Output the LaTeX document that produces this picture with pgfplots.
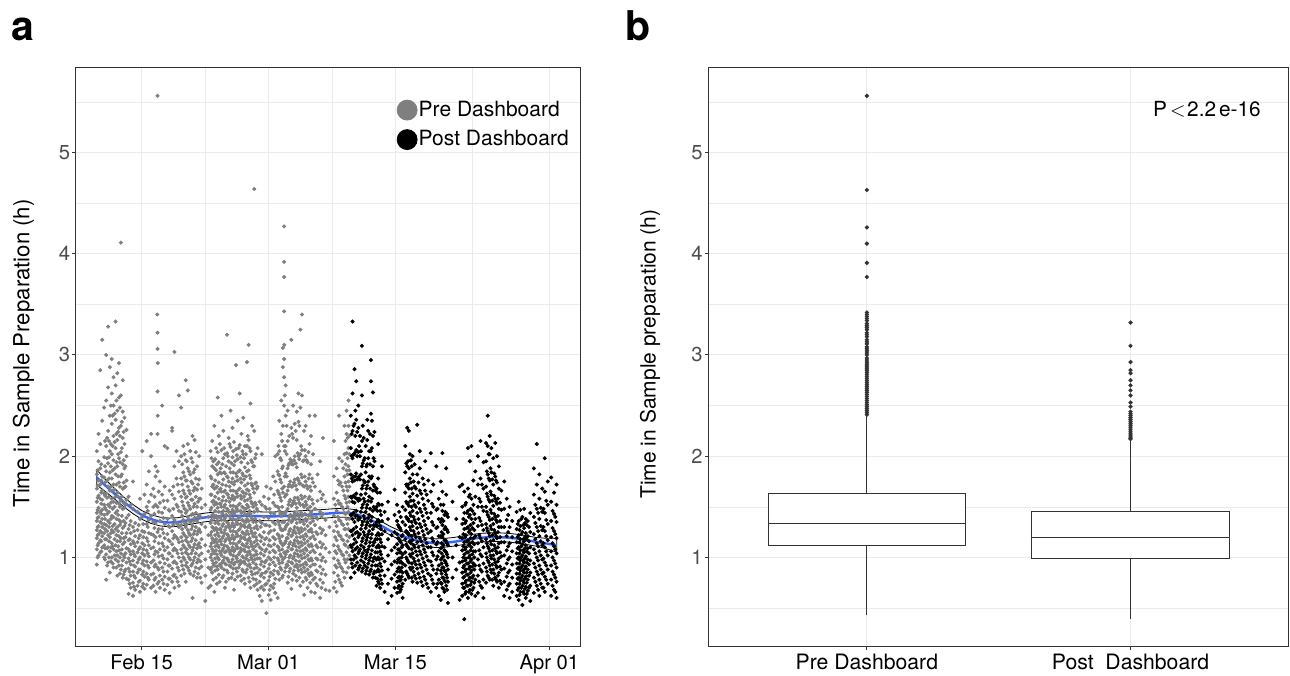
\documentclass[border=0pt]{standalone}
\usepackage{fontspec}
\setmainfont{TeX Gyre Heros}
\usepackage{pgfplots}
\usepackage{pgfplotstable}
\pgfplotsset{compat=1.18}
\usepgfplotslibrary{statistics}

\definecolor{ptgray}{HTML}{7F7F7F}
\definecolor{gridc}{HTML}{EBEBEB}
\definecolor{frame}{HTML}{333333}
\definecolor{ticktxt}{HTML}{4D4D4D}
\definecolor{fitblue}{HTML}{3366FF}

% pre dashboard points: x = days after Feb 15, one row per time slot, up to 10 values
\pgfplotstableread{
x a b c d e f g h i j
-4.95 0.93 1.08 1.19 1.27 1.36 1.44 1.55 1.68 1.82 2.05
-4.76 1.02 1.14 1.23 1.31 1.40 1.49 1.61 1.76 1.95 2.22
-4.57 1.05 1.17 1.26 1.35 1.45 1.58 1.72 1.88 2.12 2.85
-4.36 1.10 1.21 1.30 1.38 1.47 1.57 1.66 1.80 2.35 3.15
-4.14 1.00 1.12 1.24 1.33 1.42 1.52 1.63 1.79 1.99 2.48
-3.92 0.78 1.03 1.18 1.32 1.47 1.63 1.85 2.10 2.55 3.00
-3.71 0.95 1.10 1.22 1.36 1.52 1.70 1.93 2.25 2.68 3.28
-3.52 0.85 1.06 1.20 1.34 1.50 1.66 1.84 2.05 2.40 2.88
-3.30 1.00 1.14 1.27 1.41 1.58 1.78 2.02 2.32 2.62 2.96
-3.11 0.90 1.08 1.25 1.40 1.55 1.72 1.96 2.20 2.50 2.78
-2.88 0.98 1.12 1.28 1.44 1.60 1.82 2.08 2.36 2.70 3.33
-2.69 0.82 1.02 1.16 1.30 1.46 1.64 1.90 2.16 2.45 2.82
-2.51 0.92 1.07 1.21 1.37 1.53 1.74 1.98 2.28 2.58 2.92
-2.30 0.88 1.04 1.19 1.35 1.56 1.80 2.04 2.30 2.60 4.11
-2.09 0.80 0.97 1.13 1.29 1.48 1.68 1.92 2.18 2.44 2.75
-1.90 0.86 1.00 1.15 1.31 1.49 1.69 1.88 2.12 2.38 nan
-1.68 0.79 0.95 1.09 1.24 1.39 1.57 1.76 2.00 2.26 nan
-1.45 0.64 0.78 0.89 0.99 1.08 1.17 1.28 1.42 1.60 nan
-1.21 0.70 0.82 0.93 1.03 1.13 1.24 1.36 1.52 nan nan
-0.96 0.62 0.75 0.86 0.97 1.06 1.16 1.30 1.48 1.75 nan
-0.72 0.68 0.80 0.91 1.01 1.11 1.21 1.34 nan nan nan
-0.46 0.72 0.85 0.95 1.05 1.15 1.27 1.45 nan nan nan
-0.19 0.66 0.77 0.88 1.00 1.10 1.22 1.38 1.58 nan nan
0.06 0.71 0.83 0.94 1.04 1.14 1.26 1.40 2.05 nan nan
0.31 0.69 0.81 0.92 1.02 1.12 1.25 1.43 1.62 nan nan
0.55 0.73 0.84 0.96 1.07 1.19 1.33 1.50 1.72 2.15 nan
0.79 0.78 0.90 1.01 1.12 1.24 1.37 1.55 1.85 nan nan
1.04 0.70 0.83 0.95 1.09 1.23 1.41 1.62 2.00 2.22 nan
1.29 0.72 0.84 0.97 1.10 1.22 1.35 1.50 1.68 nan nan
1.53 0.66 0.80 0.93 1.06 1.20 1.34 1.52 1.80 1.90 nan
1.75 0.74 0.90 1.05 1.25 1.50 1.85 2.22 2.64 3.06 3.22
2.01 0.70 0.82 0.95 1.08 1.21 1.36 1.54 1.75 nan nan
2.26 0.78 0.90 1.02 1.14 1.28 1.44 1.62 2.50 nan nan
2.54 0.68 0.81 0.94 1.07 1.19 1.33 1.49 1.70 2.10 nan
2.84 0.73 0.86 0.98 1.10 1.23 1.38 1.56 2.08 nan nan
3.09 0.65 0.79 0.92 1.04 1.16 1.30 1.46 1.66 nan nan
3.36 0.76 0.89 1.01 1.13 1.26 1.41 1.62 2.25 2.28 nan
3.61 0.70 0.83 0.96 1.09 1.22 1.37 1.58 1.90 3.03 nan
3.84 0.80 0.94 1.07 1.20 1.34 1.52 1.78 2.05 nan nan
4.11 0.72 0.87 1.00 1.15 1.30 1.46 1.65 1.95 2.60 nan
4.36 0.82 0.96 1.08 1.20 1.32 1.45 1.60 1.78 2.00 2.48
4.59 0.88 1.00 1.12 1.24 1.37 1.51 1.66 1.84 2.10 nan
4.86 0.76 0.92 1.05 1.17 1.30 1.44 1.59 1.76 1.96 2.75
5.09 0.90 1.03 1.15 1.27 1.40 1.54 1.70 1.88 2.12 2.65
5.36 0.84 0.98 1.10 1.22 1.35 1.48 1.63 1.82 2.05 nan
5.61 0.60 0.94 1.07 1.19 1.31 1.43 1.57 1.73 1.94 2.20
5.84 0.86 1.00 1.13 1.26 1.39 1.53 1.69 1.87 2.16 nan
6.11 0.80 0.95 1.09 1.23 1.36 1.50 1.67 1.90 nan nan
6.34 0.89 1.02 1.14 1.28 1.42 1.58 1.77 2.00 nan nan
6.61 0.75 0.91 1.04 1.18 1.33 1.49 1.68 nan nan nan
7.02 0.57 0.82 0.98 1.12 1.30 1.52 nan nan nan nan
7.36 0.70 0.90 1.06 1.22 1.40 nan nan nan nan nan
7.61 0.72 0.88 1.00 1.11 1.22 1.34 1.47 1.62 1.80 2.05
7.79 0.85 0.97 1.08 1.19 1.30 1.42 1.55 1.70 1.90 2.15
8.02 0.66 0.92 1.04 1.15 1.27 1.39 1.52 1.68 1.88 2.30
8.21 0.80 0.95 1.07 1.18 1.29 1.41 1.54 1.69 1.86 2.08
8.39 0.88 1.00 1.12 1.24 1.36 1.49 1.64 1.82 2.04 2.58
8.62 0.76 0.93 1.06 1.17 1.28 1.40 1.53 1.67 1.84 2.12
8.80 0.90 1.02 1.13 1.25 1.37 1.50 1.65 1.83 2.06 2.40
9.01 0.82 0.97 1.09 1.21 1.33 1.46 1.60 1.77 1.98 2.25
9.19 0.70 0.94 1.05 1.16 1.27 1.39 1.52 1.66 1.83 2.02
9.42 0.87 0.99 1.11 1.23 1.35 1.48 1.63 1.80 2.03 3.20
9.60 0.79 0.96 1.08 1.20 1.32 1.45 1.59 1.75 1.95 2.18
9.81 0.91 1.03 1.14 1.26 1.38 1.51 1.66 1.84 2.09 2.45
10.02 0.84 0.98 1.10 1.22 1.34 1.47 1.61 1.78 1.99 2.28
10.19 0.68 0.93 1.06 1.18 1.30 1.43 1.57 1.72 1.91 2.14
10.41 0.89 1.01 1.13 1.25 1.37 1.50 1.65 1.83 2.07 2.90
10.59 0.81 0.96 1.09 1.21 1.33 1.46 1.60 1.76 1.97 2.35
10.82 0.93 1.05 1.16 1.28 1.40 1.53 1.68 1.86 2.11 2.62
11.00 0.77 0.95 1.07 1.19 1.31 1.44 1.58 1.74 1.94 2.22
11.21 0.86 1.00 1.12 1.24 1.36 1.49 1.64 1.81 2.02 2.38
11.39 0.74 0.94 1.06 1.18 1.30 1.42 1.56 1.71 1.89 2.10
11.62 0.88 1.02 1.14 1.26 1.38 1.52 1.67 1.85 2.10 2.93
11.80 0.80 0.97 1.10 1.23 1.36 1.50 1.66 1.86 2.16 3.10
12.01 0.70 0.90 1.03 1.16 1.29 1.43 1.59 1.78 2.05 2.52
12.19 0.83 0.98 1.11 1.24 1.38 1.53 1.71 1.94 2.30 nan
12.42 0.72 0.89 1.02 1.15 1.29 1.45 1.64 1.90 2.25 4.64
12.61 0.78 0.93 1.06 1.20 1.35 1.52 1.74 2.02 nan nan
12.79 0.68 0.85 0.99 1.13 1.28 1.46 1.70 2.08 nan nan
13.02 0.62 0.76 0.88 0.99 1.10 1.22 1.36 1.55 nan nan
13.26 0.57 0.71 0.84 0.96 1.08 1.20 1.34 1.52 2.02 nan
13.49 0.68 0.80 0.91 1.02 1.13 1.25 1.40 1.60 nan nan
13.76 0.45 0.74 0.86 0.97 1.08 1.19 1.32 1.48 1.70 nan
14.01 0.63 0.77 0.89 1.00 1.12 1.24 1.39 1.58 nan nan
14.24 0.58 0.72 0.85 0.98 1.11 1.26 1.44 1.68 nan nan
14.51 0.70 0.83 0.95 1.07 1.20 1.35 1.54 1.80 nan nan
14.74 0.65 0.79 0.92 1.05 1.18 1.33 1.51 1.75 2.00 nan
15.01 0.60 0.86 0.99 1.11 1.23 1.36 1.50 1.66 1.85 2.02
15.19 0.78 0.94 1.07 1.19 1.32 1.46 1.62 1.81 2.05 2.35
15.41 0.88 1.01 1.14 1.27 1.41 1.56 1.74 1.96 2.22 2.55
15.58 0.82 0.98 1.12 1.27 1.44 1.64 1.90 2.30 2.88 3.07
15.72 1.05 1.35 1.70 2.10 2.50 2.78 2.96 3.43 3.77 3.92
15.89 0.90 1.03 1.16 1.30 1.45 1.62 1.83 2.10 2.40 2.70
16.11 0.75 0.92 1.06 1.19 1.33 1.48 1.66 1.88 2.15 2.45
16.29 0.86 1.00 1.13 1.26 1.40 1.55 1.72 1.93 2.20 nan
16.52 0.69 0.95 1.08 1.21 1.35 1.51 1.70 1.95 2.28 3.15
16.71 0.84 0.99 1.12 1.25 1.39 1.54 1.71 1.92 2.18 2.50
16.89 0.91 1.04 1.17 1.30 1.44 1.59 1.77 2.00 2.32 nan
17.12 0.77 0.93 1.07 1.20 1.34 1.49 1.67 1.89 2.16 2.44
17.30 0.87 1.01 1.14 1.27 1.41 1.57 1.76 2.00 2.34 2.62
17.51 0.72 0.92 1.06 1.20 1.35 1.52 1.73 2.02 2.48 3.25
17.69 0.85 0.99 1.12 1.26 1.41 1.58 1.79 2.06 2.60 3.40
17.92 0.63 0.90 1.04 1.18 1.33 1.50 1.70 1.96 2.25 nan
18.09 0.80 0.95 1.09 1.23 1.38 1.55 1.75 2.00 2.30 nan
18.31 0.70 0.88 1.02 1.16 1.31 1.48 1.68 1.94 nan nan
18.52 0.82 0.97 1.11 1.26 1.42 1.60 1.82 2.12 2.40 nan
18.69 0.66 0.85 0.99 1.13 1.28 1.45 1.66 1.92 2.20 nan
18.91 0.78 0.93 1.07 1.21 1.36 1.53 1.74 2.02 nan nan
19.12 0.65 0.80 0.93 1.05 1.18 1.32 1.48 1.70 2.40 nan
19.41 0.72 0.86 0.98 1.10 1.23 1.38 1.56 1.82 nan nan
19.69 0.60 0.78 0.91 1.03 1.15 1.29 1.45 1.65 1.95 nan
20.01 0.75 0.88 1.00 1.13 1.27 1.43 1.62 2.18 nan nan
20.29 0.68 0.83 0.96 1.09 1.22 1.37 1.55 nan nan nan
20.72 0.67 1.05 1.30 nan nan nan nan nan nan nan
21.21 0.70 0.85 0.99 1.12 1.26 1.41 1.58 1.80 2.15 nan
21.52 0.66 0.90 1.04 1.17 1.31 1.46 1.64 1.88 nan nan
21.79 0.78 0.94 1.08 1.22 1.37 1.53 1.72 1.98 2.40 nan
22.11 0.72 0.89 1.03 1.18 1.33 1.50 1.70 1.95 nan nan
22.38 0.80 0.98 1.13 1.28 1.44 1.61 1.80 2.02 2.30 nan
22.61 0.85 1.05 1.22 1.38 1.54 1.70 1.86 2.03 2.22 2.45
22.82 0.90 1.10 1.28 1.45 1.60 1.75 1.90 2.08 2.30 2.55
}\pretab

% more pre dashboard points, the dense cores
\pgfplotstableread{
x a b c d e f g h i j
-4.86 1.00 1.12 1.22 1.30 1.39 1.47 1.59 1.71 1.86 nan
-4.46 1.06 1.16 1.25 1.34 1.43 1.53 1.64 1.76 1.92 nan
-4.05 0.98 1.09 1.18 1.28 1.38 1.49 1.61 1.74 1.90 2.15
-3.82 0.92 1.09 1.26 1.43 1.59 1.76 1.98 2.18 nan nan
-3.61 1.00 1.16 1.30 1.45 1.60 1.78 1.99 2.15 nan nan
-3.40 0.96 1.10 1.24 1.38 1.54 1.70 1.90 2.12 2.50 nan
-3.20 0.94 1.11 1.31 1.48 1.66 1.86 2.10 2.40 nan nan
-2.99 1.02 1.18 1.33 1.50 1.67 1.88 2.14 2.42 nan nan
-2.79 0.90 1.06 1.22 1.38 1.54 1.72 1.94 2.22 2.55 nan
-2.60 0.96 1.11 1.26 1.42 1.60 1.80 2.02 2.24 nan nan
-2.40 0.84 1.00 1.16 1.32 1.50 1.70 1.94 2.20 2.48 nan
-2.19 0.92 1.08 1.24 1.41 1.60 1.82 2.08 2.34 nan nan
-1.99 0.83 1.02 1.19 1.36 1.54 1.74 1.96 2.24 nan nan
-1.79 0.88 1.04 1.20 1.34 1.52 1.70 1.90 nan nan nan
-1.33 0.74 0.86 0.96 1.06 1.18 1.32 nan nan nan nan
-0.84 0.71 0.82 0.92 1.03 1.14 1.26 nan nan nan nan
-0.33 0.76 0.88 0.98 1.08 1.19 1.32 nan nan nan nan
0.18 0.74 0.86 0.97 1.08 1.20 1.33 nan nan nan nan
0.67 0.80 0.92 1.04 1.16 1.30 1.46 nan nan nan nan
1.41 0.78 0.91 1.03 1.16 1.29 1.43 1.60 nan nan nan
1.88 0.76 0.88 1.01 1.14 1.28 1.45 1.65 nan nan nan
2.40 0.74 0.86 0.99 1.11 1.24 1.39 1.56 nan nan nan
2.97 0.79 0.92 1.04 1.17 1.31 1.47 nan nan nan nan
3.49 0.82 0.95 1.07 1.19 1.32 1.48 1.70 nan nan nan
3.97 0.76 0.90 1.04 1.18 1.33 1.50 1.72 nan nan nan
4.47 0.92 1.04 1.16 1.28 1.41 1.55 1.72 1.92 nan nan
4.72 0.84 0.98 1.10 1.22 1.34 1.48 1.63 1.80 2.02 nan
4.98 0.95 1.08 1.20 1.33 1.46 1.60 1.76 1.95 nan nan
5.22 0.87 1.00 1.12 1.24 1.37 1.51 1.66 1.85 nan nan
5.48 0.92 1.04 1.16 1.28 1.42 1.57 1.75 1.98 nan nan
5.72 0.82 0.97 1.10 1.23 1.36 1.50 1.66 1.84 nan nan
5.97 0.90 1.04 1.17 1.30 1.44 1.60 1.78 2.04 nan nan
6.22 0.84 0.98 1.12 1.26 1.40 1.55 1.72 nan nan nan
6.48 0.80 0.96 1.10 1.25 1.40 1.58 nan nan nan nan
7.70 0.90 1.03 1.14 1.25 1.37 1.49 1.62 1.78 1.98 nan
7.91 0.78 0.94 1.06 1.17 1.29 1.42 1.56 1.72 1.95 nan
8.11 0.87 0.99 1.11 1.22 1.34 1.46 1.60 1.76 1.97 nan
8.30 0.74 0.91 1.03 1.15 1.27 1.39 1.53 1.70 1.92 nan
8.51 0.83 0.98 1.10 1.21 1.33 1.45 1.58 1.74 1.94 2.20
8.71 0.92 1.04 1.16 1.28 1.40 1.53 1.68 1.88 nan nan
8.90 0.80 0.95 1.07 1.19 1.31 1.43 1.56 1.72 1.92 nan
9.10 0.88 1.00 1.12 1.24 1.37 1.50 1.65 1.84 2.08 nan
9.31 0.76 0.93 1.06 1.18 1.30 1.42 1.56 1.71 1.90 nan
9.51 0.85 0.98 1.10 1.22 1.34 1.47 1.62 1.79 2.00 nan
9.70 0.92 1.05 1.17 1.29 1.41 1.55 1.70 1.88 2.12 nan
9.91 0.80 0.95 1.07 1.19 1.31 1.44 1.58 1.74 1.93 nan
10.10 0.89 1.02 1.14 1.26 1.38 1.51 1.66 1.84 2.05 nan
10.30 0.78 0.95 1.08 1.20 1.32 1.45 1.59 1.75 1.95 nan
10.50 0.86 0.99 1.11 1.23 1.35 1.48 1.63 1.80 2.01 nan
10.71 0.90 1.03 1.15 1.27 1.39 1.52 1.67 1.85 2.08 nan
10.91 0.82 0.97 1.09 1.21 1.33 1.46 1.61 1.78 1.99 nan
11.11 0.88 1.01 1.13 1.25 1.37 1.50 1.65 1.83 2.05 nan
11.30 0.79 0.96 1.08 1.20 1.32 1.45 1.60 1.77 1.98 nan
11.51 0.85 0.99 1.11 1.23 1.35 1.48 1.63 1.80 2.02 nan
11.71 0.92 1.05 1.17 1.30 1.43 1.57 1.73 1.93 2.20 nan
11.91 0.76 0.93 1.06 1.19 1.32 1.46 1.62 1.81 2.08 nan
12.10 0.86 1.00 1.13 1.26 1.40 1.55 1.73 1.96 nan nan
12.31 0.79 0.95 1.08 1.21 1.35 1.50 1.68 1.90 nan nan
12.52 0.84 0.98 1.11 1.24 1.38 1.54 1.73 1.98 nan nan
12.70 0.74 0.90 1.03 1.17 1.31 1.48 1.68 nan nan nan
13.14 0.70 0.82 0.93 1.04 1.16 1.30 nan nan nan nan
13.62 0.73 0.85 0.95 1.06 1.18 1.32 1.50 nan nan nan
14.12 0.68 0.81 0.93 1.05 1.17 1.31 1.48 nan nan nan
14.62 0.74 0.87 1.00 1.13 1.27 1.43 1.62 nan nan nan
15.10 0.84 0.97 1.10 1.22 1.35 1.49 1.64 1.82 2.10 nan
15.30 0.90 1.03 1.16 1.29 1.43 1.59 1.77 1.98 nan nan
15.50 0.80 0.95 1.08 1.21 1.35 1.50 1.68 1.88 2.15 nan
15.80 0.86 1.00 1.14 1.28 1.43 1.60 1.80 2.05 2.60 nan
16.00 0.93 1.06 1.19 1.32 1.46 1.62 1.80 2.02 2.30 nan
16.20 0.81 0.96 1.10 1.23 1.37 1.52 1.70 1.91 nan nan
16.40 0.89 1.02 1.15 1.28 1.42 1.57 1.75 1.97 nan nan
16.61 0.78 0.94 1.08 1.22 1.36 1.52 1.70 1.92 2.22 nan
16.80 0.87 1.01 1.14 1.27 1.41 1.56 1.74 1.96 nan nan
17.00 0.82 0.97 1.11 1.24 1.38 1.53 1.71 1.93 2.25 nan
17.21 0.90 1.03 1.16 1.29 1.43 1.59 1.78 2.03 nan nan
17.40 0.80 0.96 1.10 1.24 1.38 1.54 1.73 1.97 2.30 nan
17.60 0.88 1.02 1.15 1.29 1.44 1.61 1.82 2.10 nan nan
17.80 0.76 0.93 1.07 1.21 1.36 1.52 1.71 1.95 nan nan
18.00 0.86 1.00 1.14 1.28 1.43 1.60 1.80 2.06 nan nan
18.20 0.78 0.93 1.07 1.21 1.36 1.52 1.71 1.96 nan nan
18.41 0.84 0.98 1.12 1.26 1.41 1.58 1.78 2.04 nan nan
18.60 0.75 0.91 1.05 1.19 1.34 1.50 1.70 nan nan nan
18.80 0.83 0.97 1.11 1.25 1.40 1.57 1.78 nan nan nan
19.26 0.74 0.87 0.99 1.12 1.25 1.40 nan nan nan nan
19.84 0.70 0.84 0.97 1.10 1.24 1.40 1.58 nan nan nan
21.36 0.76 0.92 1.06 1.20 1.35 1.52 nan nan nan nan
21.66 0.82 0.97 1.11 1.25 1.40 1.56 1.76 nan nan nan
21.95 0.75 0.91 1.06 1.21 1.36 1.53 1.74 nan nan nan
22.25 0.86 1.02 1.17 1.32 1.48 1.66 1.88 nan nan nan
22.50 0.95 1.12 1.28 1.43 1.58 1.74 1.92 2.15 nan nan
22.72 0.98 1.16 1.33 1.50 1.66 1.82 1.98 2.18 nan nan
22.92 1.02 1.20 1.38 1.55 1.70 1.86 2.02 2.20 nan nan
}\pretabb

% post dashboard points
\pgfplotstableread{
x a b c d e f g h i j
23.08 0.80 0.98 1.12 1.26 1.42 1.60 1.82 2.08 2.40 nan
23.27 0.90 1.06 1.22 1.38 1.55 1.75 1.98 2.25 2.62 3.33
23.49 0.85 1.02 1.18 1.35 1.54 1.76 2.02 2.32 2.86 nan
23.68 1.00 1.15 1.30 1.46 1.63 1.83 2.06 2.36 2.74 nan
23.91 0.88 1.04 1.20 1.37 1.56 1.78 2.04 2.28 2.50 nan
24.09 0.92 1.08 1.23 1.39 1.57 1.77 2.00 2.20 nan nan
24.31 0.86 1.01 1.16 1.32 1.49 1.68 1.90 2.15 2.60 3.09
24.50 0.95 1.10 1.25 1.41 1.58 1.76 1.96 2.18 nan nan
24.72 0.84 0.99 1.14 1.29 1.45 1.63 1.84 2.10 nan nan
24.89 0.90 1.05 1.20 1.35 1.52 1.71 1.92 2.16 2.36 nan
25.11 0.83 0.97 1.11 1.26 1.42 1.60 1.80 2.05 nan nan
25.30 0.88 1.03 1.19 1.36 1.55 1.78 2.05 2.42 2.74 2.95
25.52 0.80 0.96 1.12 1.28 1.46 1.66 1.90 2.20 2.63 nan
25.69 0.86 1.00 1.15 1.31 1.49 1.70 1.95 2.24 nan nan
25.92 0.72 0.86 0.98 1.10 1.22 1.35 1.50 1.68 nan nan
26.10 0.76 0.88 1.00 1.12 1.24 1.37 1.53 1.78 2.12 nan
26.31 0.70 0.82 0.94 1.06 1.18 1.31 1.46 1.64 nan nan
26.52 0.74 0.87 0.99 1.11 1.23 1.36 1.52 1.90 nan nan
26.81 0.66 0.82 0.96 1.10 1.26 1.45 nan nan nan nan
27.19 0.55 0.74 0.88 1.02 1.18 1.38 1.55 nan nan nan
27.58 0.62 0.79 0.93 1.07 1.22 nan nan nan nan nan
27.91 0.70 0.83 0.96 1.10 1.25 1.42 1.67 nan nan nan
28.19 0.65 0.76 0.86 0.95 1.04 1.13 1.23 1.36 1.52 nan
28.41 0.72 0.81 0.90 0.99 1.08 1.18 1.30 1.45 nan nan
28.59 0.68 0.78 0.87 0.96 1.05 1.15 1.27 1.40 nan nan
28.80 0.60 0.74 0.85 0.94 1.03 1.12 1.22 1.35 1.50 nan
29.09 0.78 0.92 1.05 1.18 1.32 1.47 1.64 1.84 2.10 nan
29.31 0.84 0.98 1.11 1.24 1.38 1.53 1.70 1.90 2.28 nan
29.49 0.80 0.95 1.09 1.22 1.36 1.51 1.68 1.88 2.25 nan
29.71 0.88 1.01 1.14 1.27 1.41 1.56 1.74 1.96 nan nan
29.90 0.76 0.90 1.04 1.17 1.31 1.46 1.63 1.82 2.00 nan
30.12 0.82 0.96 1.10 1.23 1.37 1.52 1.70 1.92 nan nan
30.41 0.75 0.89 1.02 1.15 1.29 1.44 1.61 1.82 2.31 nan
30.69 0.80 0.93 1.06 1.19 1.33 1.48 1.66 1.88 2.05 nan
31.01 0.72 0.86 0.99 1.12 1.26 1.41 1.58 1.78 nan nan
31.29 0.78 0.92 1.05 1.18 1.32 1.48 1.66 1.95 nan nan
31.62 0.70 0.84 0.97 1.10 1.24 1.39 1.56 1.76 nan nan
31.91 0.66 0.82 0.96 1.10 1.26 1.44 1.65 2.03 nan nan
32.19 0.74 0.88 1.02 1.16 1.32 1.50 1.72 nan nan nan
32.52 0.70 0.84 0.98 1.13 1.29 1.47 1.90 nan nan nan
32.79 0.62 0.78 0.92 1.06 1.21 1.38 1.58 nan nan nan
33.01 0.58 0.75 0.87 0.98 1.09 1.21 1.35 1.52 1.75 nan
33.19 0.70 0.80 0.90 1.00 1.10 1.20 1.32 1.46 1.65 2.03
33.42 0.66 0.77 0.87 0.97 1.07 1.17 1.28 1.42 nan nan
33.61 0.72 0.83 0.94 1.05 1.16 1.28 1.42 1.62 1.88 nan
33.80 0.55 0.76 0.88 1.00 1.12 1.25 1.40 nan nan nan
34.31 0.80 1.00 1.55 nan nan nan nan nan nan nan
34.72 0.88 1.12 1.38 nan nan nan nan nan nan nan
35.09 0.58 0.95 1.20 1.70 nan nan nan nan nan nan
35.38 0.62 0.74 0.85 0.96 1.07 1.19 1.33 1.50 1.72 nan
35.61 0.39 0.70 0.81 0.92 1.03 1.15 1.28 1.44 1.65 nan
35.79 0.66 0.77 0.88 0.99 1.10 1.22 1.36 1.54 nan nan
36.01 0.60 0.72 0.83 0.94 1.05 1.17 1.30 1.46 1.68 2.08
36.22 0.68 0.80 0.91 1.02 1.14 1.27 1.42 1.62 1.95 nan
36.39 0.64 0.76 0.87 0.98 1.10 1.23 1.38 1.58 2.10 nan
36.61 0.70 0.82 0.94 1.06 1.19 1.34 1.52 1.76 nan nan
36.82 0.62 0.78 0.92 1.06 1.21 1.38 1.60 1.85 nan nan
37.11 0.65 0.82 0.98 1.14 1.31 1.50 1.72 2.00 nan nan
37.39 0.72 0.88 1.03 1.19 1.36 1.55 1.78 2.15 nan nan
37.72 0.60 0.78 0.94 1.10 1.27 1.46 1.68 1.94 nan nan
38.01 0.75 0.90 1.04 1.18 1.33 1.50 1.70 1.95 2.13 nan
38.19 0.82 0.97 1.11 1.26 1.42 1.60 1.82 2.10 2.40 nan
38.41 0.78 0.92 1.06 1.21 1.37 1.55 1.76 2.02 2.20 nan
38.59 0.85 0.99 1.13 1.28 1.44 1.62 1.84 2.08 nan nan
38.81 0.72 0.88 1.02 1.17 1.33 1.51 1.72 1.98 nan nan
39.02 0.80 0.95 1.09 1.24 1.40 1.58 1.80 2.13 nan nan
39.21 0.76 0.90 1.04 1.19 1.35 1.53 1.74 2.00 nan nan
39.42 0.70 0.85 0.99 1.14 1.30 1.48 1.68 1.90 nan nan
39.69 0.74 0.88 1.01 1.15 1.30 1.47 1.66 nan nan nan
40.01 0.62 0.76 0.89 1.02 1.15 1.30 1.48 1.75 nan nan
40.29 0.68 0.81 0.94 1.07 1.21 1.37 1.58 nan nan nan
40.61 0.60 0.74 0.87 1.00 1.14 1.30 1.50 nan nan nan
40.89 0.66 0.80 0.93 1.06 1.20 1.36 nan nan nan nan
41.39 0.62 0.74 0.84 0.94 1.04 1.15 1.28 1.45 nan nan
41.61 0.58 0.70 0.80 0.90 1.00 1.10 1.22 1.36 1.55 nan
41.79 0.66 0.77 0.87 0.97 1.07 1.18 1.31 1.47 nan nan
42.02 0.53 0.72 0.82 0.92 1.02 1.13 1.25 1.40 nan nan
42.21 0.64 0.75 0.85 0.95 1.05 1.16 1.29 1.48 nan nan
42.39 0.60 0.71 0.81 0.91 1.01 1.12 1.24 1.38 nan nan
42.61 0.67 0.78 0.88 0.98 1.09 1.21 1.36 nan nan nan
42.89 0.57 0.72 0.85 0.97 1.10 1.25 1.44 nan nan nan
43.29 0.65 0.80 0.94 1.08 1.23 1.40 1.62 1.88 nan nan
43.61 0.72 0.86 1.00 1.14 1.30 1.48 1.72 2.12 nan nan
43.89 0.62 0.78 0.92 1.06 1.21 1.38 1.58 1.82 nan nan
44.21 0.70 0.84 0.98 1.12 1.27 1.45 1.68 nan nan nan
44.49 0.66 0.81 0.95 1.10 1.26 1.44 1.65 1.98 nan nan
44.81 0.74 0.88 1.02 1.17 1.33 1.52 1.75 nan nan nan
45.19 0.62 0.78 0.92 1.06 1.20 1.36 1.55 1.79 nan nan
45.51 0.68 0.83 0.97 1.11 1.26 1.43 1.64 nan nan nan
45.79 0.60 0.76 0.90 1.04 1.19 1.35 1.52 1.72 nan nan
}\posttab

% more post dashboard points, the dense cores
\pgfplotstableread{
x a b c d e f g h i j
23.18 0.94 1.10 1.26 1.42 1.59 1.78 2.00 2.22 nan nan
23.38 0.98 1.13 1.28 1.44 1.61 1.80 2.02 2.30 nan nan
23.58 0.92 1.08 1.24 1.41 1.59 1.80 2.04 2.20 2.45 nan
23.79 0.95 1.10 1.25 1.41 1.58 1.77 2.00 2.24 nan nan
23.99 0.90 1.06 1.22 1.39 1.58 1.80 2.10 nan nan nan
24.20 0.97 1.12 1.28 1.45 1.62 1.82 2.05 nan nan nan
24.40 0.89 1.04 1.19 1.35 1.52 1.71 1.93 2.30 nan nan
24.61 0.92 1.07 1.22 1.38 1.55 1.74 1.98 nan nan nan
24.80 0.87 1.02 1.17 1.32 1.49 1.68 1.90 nan nan nan
25.00 0.94 1.08 1.23 1.39 1.56 1.75 1.98 2.25 nan nan
25.20 0.86 1.00 1.15 1.31 1.48 1.68 1.92 2.22 nan nan
25.41 0.92 1.07 1.23 1.40 1.58 1.80 2.08 2.35 nan nan
25.60 0.84 0.99 1.15 1.32 1.50 1.72 1.98 nan nan nan
25.80 0.80 0.92 1.05 1.18 1.32 1.48 1.66 nan nan nan
26.01 0.79 0.92 1.05 1.18 1.31 1.46 1.64 nan nan nan
26.21 0.74 0.86 0.98 1.10 1.22 1.35 1.52 nan nan nan
26.41 0.78 0.91 1.03 1.15 1.28 1.42 nan nan nan nan
28.30 0.70 0.80 0.89 0.98 1.08 1.19 1.32 nan nan nan
28.50 0.66 0.77 0.86 0.95 1.05 1.16 1.29 nan nan nan
28.70 0.71 0.81 0.90 1.00 1.10 1.21 nan nan nan nan
29.20 0.86 1.00 1.13 1.26 1.40 1.55 1.72 1.93 nan nan
29.40 0.82 0.96 1.10 1.24 1.38 1.54 1.72 1.95 nan nan
29.60 0.90 1.03 1.16 1.30 1.44 1.60 1.78 2.02 nan nan
29.80 0.80 0.94 1.08 1.21 1.35 1.50 1.68 1.90 nan nan
30.01 0.86 0.99 1.12 1.26 1.40 1.56 1.75 nan nan nan
30.26 0.79 0.93 1.06 1.20 1.34 1.50 1.68 nan nan nan
30.55 0.84 0.97 1.10 1.24 1.38 1.54 1.74 nan nan nan
30.85 0.76 0.90 1.03 1.16 1.30 1.45 1.63 nan nan nan
31.15 0.81 0.95 1.08 1.22 1.36 1.52 1.72 nan nan nan
31.45 0.74 0.88 1.01 1.14 1.28 1.44 1.62 nan nan nan
32.05 0.78 0.92 1.05 1.19 1.35 1.53 nan nan nan nan
32.65 0.74 0.88 1.01 1.15 1.30 1.48 nan nan nan nan
33.10 0.74 0.84 0.94 1.04 1.14 1.25 1.38 nan nan nan
33.30 0.69 0.80 0.90 1.01 1.12 1.23 1.36 1.52 nan nan
33.51 0.76 0.86 0.96 1.06 1.17 1.30 1.45 nan nan nan
33.70 0.68 0.80 0.92 1.03 1.14 1.27 1.43 nan nan nan
35.50 0.70 0.80 0.90 1.00 1.11 1.23 1.38 nan nan nan
35.70 0.64 0.75 0.86 0.97 1.08 1.20 1.34 1.52 nan nan
35.90 0.72 0.83 0.94 1.05 1.16 1.29 1.44 nan nan nan
36.11 0.66 0.78 0.89 1.00 1.12 1.25 1.40 1.60 nan nan
36.30 0.73 0.85 0.96 1.07 1.19 1.32 1.48 nan nan nan
36.50 0.68 0.80 0.91 1.03 1.15 1.29 1.46 nan nan nan
36.71 0.75 0.88 1.00 1.13 1.27 1.43 nan nan nan nan
37.25 0.76 0.92 1.07 1.22 1.39 1.58 nan nan nan nan
37.55 0.70 0.86 1.01 1.16 1.32 1.50 1.72 nan nan nan
38.10 0.86 1.00 1.14 1.29 1.45 1.63 1.85 nan nan nan
38.30 0.80 0.95 1.09 1.24 1.40 1.57 1.78 2.02 nan nan
38.50 0.88 1.02 1.16 1.31 1.47 1.65 1.88 nan nan nan
38.70 0.78 0.93 1.07 1.22 1.38 1.56 1.77 nan nan nan
38.91 0.84 0.98 1.12 1.27 1.43 1.61 1.83 nan nan nan
39.11 0.78 0.92 1.06 1.21 1.37 1.55 1.76 nan nan nan
39.31 0.82 0.96 1.10 1.25 1.41 1.58 nan nan nan nan
39.55 0.77 0.91 1.05 1.20 1.36 1.54 nan nan nan nan
40.45 0.72 0.85 0.98 1.11 1.25 1.42 nan nan nan nan
41.50 0.68 0.79 0.89 0.99 1.09 1.20 1.33 nan nan nan
41.70 0.63 0.74 0.84 0.94 1.04 1.15 1.27 nan nan nan
41.90 0.70 0.80 0.90 1.00 1.11 1.23 1.38 nan nan nan
42.11 0.66 0.77 0.87 0.97 1.07 1.18 1.32 nan nan nan
42.30 0.69 0.79 0.89 0.99 1.09 1.20 1.34 nan nan nan
42.50 0.64 0.75 0.85 0.95 1.06 1.18 1.32 nan nan nan
42.75 0.70 0.82 0.93 1.04 1.16 1.30 nan nan nan nan
43.45 0.76 0.90 1.04 1.18 1.34 1.52 nan nan nan nan
43.75 0.68 0.83 0.97 1.11 1.26 1.44 nan nan nan nan
44.05 0.74 0.88 1.02 1.16 1.31 1.49 nan nan nan nan
44.35 0.70 0.85 0.99 1.14 1.30 1.48 nan nan nan nan
44.65 0.78 0.92 1.06 1.21 1.37 1.56 nan nan nan nan
45.35 0.72 0.86 1.00 1.14 1.29 1.46 nan nan nan nan
45.65 0.66 0.80 0.94 1.08 1.23 1.40 nan nan nan nan
}\posttabb

\pgfplotsset{
  gg/.style={
    scale only axis, height=289.3pt,
    ymin=0.122, ymax=5.838,
    ytick={1,2,3,4,5}, minor ytick={0.5,1.5,2.5,3.5,4.5,5.5},
    grid=both,
    major grid style={draw=gridc, line width=0.5pt},
    minor grid style={draw=gridc, line width=0.3pt},
    axis line style={draw=frame, line width=0.5pt},
    tick pos=left, tick align=outside,
    major tick length=1.8pt, minor tick length=0pt,
    every tick/.style={draw=frame, line width=0.5pt},
    /pgf/number format/assume math mode=true,
    yticklabel style={font=\fontsize{10.1}{12}\selectfont, text=ticktxt, inner sep=1pt},
    xticklabel style={font=\fontsize{10.1}{12}\selectfont, text=black, inner sep=2pt},
    clip=true,
  },
  pre/.style={only marks, mark=*, mark size=0.8pt, color=ptgray, forget plot},
  post/.style={only marks, mark=*, mark size=0.8pt, color=black, forget plot},
}

\begin{document}
\begin{tikzpicture}
\useasboundingbox (0,0) rectangle (645pt,337.5pt);

\node[anchor=base west, inner sep=0pt] at (5.6pt,317pt) {\fontsize{20.5}{24}\selectfont\bfseries a};
\node[anchor=base west, inner sep=0pt] at (312.3pt,317pt) {\fontsize{20.5}{24}\selectfont\bfseries b};

% panel a: scatter with smoother
\begin{axis}[gg,
  at={(38pt,14.35pt)}, anchor=south west, width=252.15pt,
  xmin=-7.25, xmax=48.41,
  xtick={0,14,28,45}, xticklabels={Feb 15,Mar 01,Mar 15,Apr 01},
  minor xtick={7,21,36.5},
  ylabel={Time in Sample Preparation (h)},
  ylabel style={font=\fontsize{11.1}{13}\selectfont, at={(rel axis cs:0,0.5)}, anchor=center, yshift=26.3pt, xshift=1.8pt},
  legend style={at={(0.636,0.946)}, anchor=north west, draw=none, fill=none,
    inner sep=0pt, row sep=4pt, font=\fontsize{10.5}{12}\selectfont,
    nodes={inner sep=0.8pt}},
  legend cell align=left,
  legend image code/.code={\draw[#1] plot coordinates {(5pt,0pt)};},
]
\pgfplotsinvokeforeach{a,b,c,d,e,f,g,h,i,j}{
  \addplot[pre] table[x=x, y=#1] {\pretab};
  \addplot[pre] table[x=x, y=#1] {\pretabb};
}
\addplot[pre] coordinates {(1.75,5.56) (1.78,2.92) (1.72,3.40) (15.72,4.27) (1.77,2.40) (15.74,3.10)};
\pgfplotsinvokeforeach{a,b,c,d,e,f,g,h,i,j}{
  \addplot[post] table[x=x, y=#1] {\posttab};
  \addplot[post] table[x=x, y=#1] {\posttabb};
}
% confidence band of the smoother
\addplot[fill=gray!8, draw=black, line width=0.4pt, forget plot] coordinates {
  (-4.95,1.865) (-4,1.770) (-3,1.682) (-2,1.598) (-1,1.525) (0,1.463) (1,1.423)
  (2,1.398) (3,1.388) (4,1.393) (5,1.408) (6,1.423) (7,1.438) (8,1.448) (10,1.453)
  (12,1.453) (14,1.448) (16,1.453) (18,1.463) (20,1.473) (21.5,1.483) (22.5,1.483)
  (23.5,1.473) (24.5,1.443) (25.5,1.403) (26.5,1.353) (27.5,1.303) (28.5,1.263)
  (29.5,1.233) (30.5,1.208) (31.5,1.193) (32.5,1.183) (33.5,1.188) (34.5,1.198)
  (35.5,1.213) (36.5,1.228) (37.5,1.238) (38.5,1.243) (39.5,1.243) (40.5,1.238)
  (41.5,1.228) (42.5,1.213) (43.5,1.198) (44.5,1.190) (45.8,1.188)
  (45.8,1.052) (44.5,1.090) (43.5,1.112) (42.5,1.127) (41.5,1.142) (40.5,1.152)
  (39.5,1.157) (38.5,1.157) (37.5,1.152) (36.5,1.142) (35.5,1.127) (34.5,1.112)
  (33.5,1.102) (32.5,1.097) (31.5,1.107) (30.5,1.122) (29.5,1.147) (28.5,1.177)
  (27.5,1.217) (26.5,1.267) (25.5,1.317) (24.5,1.357) (23.5,1.387) (22.5,1.397)
  (21.5,1.397) (20,1.387) (18,1.377) (16,1.367) (14,1.362) (12,1.367) (10,1.367)
  (8,1.362) (7,1.352) (6,1.337) (5,1.322) (4,1.307) (3,1.302) (2,1.312) (1,1.337)
  (0,1.377) (-1,1.435) (-2,1.502) (-3,1.578) (-4,1.650) (-4.95,1.715)
} -- cycle;
\addplot[color=fitblue, line width=1.2pt, smooth, forget plot] coordinates {
  (-4.95,1.79) (-4,1.71) (-3,1.63) (-2,1.55) (-1,1.48) (0,1.42) (1,1.38) (2,1.355)
  (3,1.345) (4,1.35) (5,1.365) (6,1.38) (7,1.395) (8,1.405) (10,1.41) (12,1.41)
  (14,1.405) (16,1.41) (18,1.42) (20,1.43) (21.5,1.44) (22.5,1.44) (23.5,1.43)
  (24.5,1.40) (25.5,1.36) (26.5,1.31) (27.5,1.26) (28.5,1.22) (29.5,1.19)
  (30.5,1.165) (31.5,1.15) (32.5,1.14) (33.5,1.145) (34.5,1.155) (35.5,1.17)
  (36.5,1.185) (37.5,1.195) (38.5,1.20) (39.5,1.20) (40.5,1.195) (41.5,1.185)
  (42.5,1.17) (43.5,1.155) (44.5,1.14) (45.8,1.12)
};
\addlegendimage{only marks, mark=*, mark size=5pt, color=ptgray}
\addlegendentry{Pre Dashboard}
\addlegendimage{only marks, mark=*, mark size=5pt, color=black}
\addlegendentry{Post Dashboard}
\end{axis}

% panel b: boxplots
\begin{axis}[gg,
  at={(354.35pt,14.35pt)}, anchor=south west, width=290pt,
  xmin=0.4, xmax=2.6,
  xtick={1,2}, xticklabels={Pre Dashboard,Post\ \ Dashboard},
  minor xtick={},
  xminorgrids=false,
  xticklabel style={font=\fontsize{10.6}{12}\selectfont, text=black},
  ylabel={Time in Sample preparation (h)},
  ylabel style={font=\fontsize{10.5}{12}\selectfont, at={(rel axis cs:0,0.5)}, anchor=center, yshift=29.3pt, xshift=1.5pt},
]
\addplot[boxplot prepared={draw position=1, lower whisker=0.427, lower quartile=1.115,
    median=1.331, upper quartile=1.627, upper whisker=2.40,
    box extend=0.75, whisker extend=0, draw direction=y},
  draw=frame, line width=0.5pt, fill=white,
  mark=*, mark size=0.8pt, mark options={solid, fill=frame, draw=frame}]
  table[row sep=\\, y index=0] {v\\ 5.56\\ 4.63\\ 4.26\\ 4.10\\ 3.91\\ 3.77\\
  3.42\\ 3.40\\ 3.38\\ 3.36\\ 3.34\\ 3.31\\ 3.29\\ 3.27\\ 3.25\\ 3.22\\ 3.20\\ 3.18\\
  3.15\\ 3.13\\ 3.11\\ 3.08\\ 3.06\\ 3.04\\ 3.02\\ 3.00\\ 2.97\\ 2.95\\ 2.93\\ 2.91\\
  2.89\\ 2.87\\ 2.85\\ 2.83\\ 2.81\\ 2.79\\ 2.77\\ 2.75\\ 2.73\\ 2.71\\ 2.69\\ 2.67\\
  2.65\\ 2.63\\ 2.61\\ 2.59\\ 2.57\\ 2.55\\ 2.53\\ 2.51\\ 2.49\\ 2.47\\ 2.45\\ 2.43\\
  2.41\\};
\addplot[boxplot prepared={draw position=2, lower whisker=0.387, lower quartile=0.988,
    median=1.196, upper quartile=1.458, upper whisker=2.16,
    box extend=0.75, whisker extend=0, draw direction=y},
  draw=frame, line width=0.5pt, fill=white,
  mark=*, mark size=0.8pt, mark options={solid, fill=frame, draw=frame}]
  table[row sep=\\, y index=0] {v\\ 3.32\\ 3.09\\ 2.93\\ 2.85\\ 2.82\\ 2.75\\ 2.70\\
  2.65\\ 2.60\\ 2.53\\ 2.49\\ 2.44\\ 2.42\\ 2.40\\ 2.38\\ 2.36\\ 2.34\\ 2.32\\ 2.30\\
  2.28\\ 2.26\\ 2.24\\ 2.22\\ 2.20\\ 2.18\\ 2.17\\};
\node[font=\fontsize{10.4}{12}\selectfont, inner sep=0pt] at (axis cs:2.29,5.423)
  {P\hspace{1.5pt}$<$\hspace{0.8pt}2.2\hspace{1.5pt}e-16};
\end{axis}
\end{tikzpicture}
\end{document}
